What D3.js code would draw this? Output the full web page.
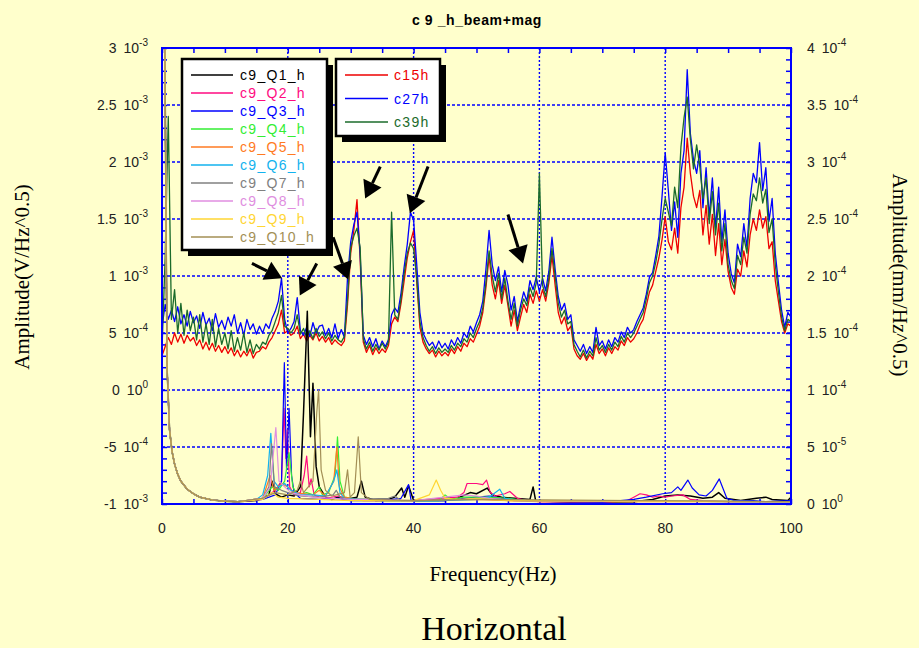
<!DOCTYPE html>
<html>
<head>
<meta charset="utf-8">
<script src="https://d3js.org/d3.v7.min.js"></script>
<style>
  body { margin: 0; background: #ffffcc; }
  svg { display: block; }
</style>
</head>
<body>
<svg id="chart"></svg>
<script>
// ---- data ----
// beam spectra, left axis, in units of 1e-4 V/Hz^0.5, one value every 0.5 Hz from 0 to 100 Hz
const freqStep = 0.5;
const freqGrid = d3.range(0, 100 + freqStep / 2, freqStep);

const c15hAmp = [
  3.0, 3.8, 4.6, 4.0, 5.0, 4.2, 4.9, 4.1, 4.8, 4.3, 4.6,
  3.9, 4.4, 3.6, 4.2, 3.5, 4.1, 3.4, 3.9, 3.3, 3.8,
  3.2, 3.7, 3.0, 3.5, 2.9, 3.4, 3.0, 3.6, 2.8, 3.3,
  3.4, 3.8, 3.6, 4.2, 4.6, 5.2, 5.8, 7.0, 5.0, 5.2,
  4.8, 5.0, 5.6, 4.5, 4.9, 4.3, 4.8, 4.4, 5.0, 4.3,
  4.7, 4.2, 4.6, 4.0, 4.4, 4.1, 3.9, 4.3, 7.5, 12.0,
  14.0, 16.7, 11.5, 4.2, 3.3, 3.9, 3.1, 3.7, 3.2, 3.6,
  3.3, 3.9, 5.8, 6.4, 6.0, 7.6, 9.6, 11.6, 13.0, 14.0,
  9.5, 5.5, 4.2, 3.6, 3.2, 3.5, 2.9, 3.4, 3.0, 3.3,
  3.0, 3.6, 3.2, 3.8, 3.4, 4.1, 3.8, 4.5, 4.2, 4.9,
  5.6, 6.8, 9.0, 11.7, 9.2, 8.0, 9.6, 7.6, 9.2, 7.4,
  5.6, 7.0, 5.2, 6.4, 7.5, 6.8, 8.4, 7.6, 8.7, 7.8,
  8.8, 7.8, 9.4, 11.8, 9.2, 6.8, 5.8, 6.4, 5.2, 5.6,
  3.6, 3.0, 2.7, 3.2, 2.6, 3.1, 2.7, 4.0, 3.2, 3.6,
  3.0, 3.7, 3.2, 3.8, 3.5, 4.3, 3.9, 4.6, 4.2, 4.5,
  5.0, 5.7, 6.2, 7.4, 8.6, 9.2, 10.4, 11.6, 13.2, 15.2,
  13.0, 12.3, 14.2, 12.0, 16.0, 17.8, 22.1, 19.0, 17.0, 16.0,
  17.5, 13.6, 16.2, 12.8, 15.4, 11.8, 14.6, 11.0, 13.2, 10.4,
  9.0, 8.4, 10.6, 10.0, 12.2, 10.8, 13.6, 15.0, 14.0, 15.8,
  14.2, 15.2, 12.4, 13.0, 9.6, 7.8, 6.0, 5.0, 5.8, 5.6
];

const c27hAmp = [
  5.5, 7.5, 6.2, 7.0, 6.0, 7.3, 5.8, 6.6, 5.6, 6.9, 5.9,
  6.5, 5.4, 6.8, 5.7, 6.3, 5.2, 6.7, 5.5, 6.1, 5.3,
  6.4, 5.6, 6.6, 5.0, 5.9, 4.8, 6.2, 5.3, 5.8, 4.9,
  5.6, 5.0, 5.8, 5.4, 6.3, 6.9, 7.8, 9.8, 6.2, 5.0,
  5.4, 6.0, 8.1, 5.2, 4.8, 5.5, 4.7, 5.9, 5.0, 5.6,
  5.7, 4.8, 5.4, 4.6, 5.8, 4.5, 5.3, 4.6, 9.9, 13.0,
  14.5, 15.6, 12.0, 4.8, 4.0, 4.6, 3.8, 4.5, 3.6, 4.3,
  3.8, 4.4, 6.6, 7.2, 6.8, 8.5, 10.8, 12.8, 15.6, 14.9,
  11.0, 6.8, 5.0, 4.4, 3.9, 4.2, 3.6, 4.3, 3.7, 4.1,
  3.6, 4.4, 3.9, 4.6, 4.1, 5.0, 4.6, 5.6, 5.1, 5.9,
  6.6, 7.8, 10.6, 14.0, 11.0, 9.6, 10.8, 8.6, 10.5, 9.2,
  7.0, 8.2, 6.0, 7.4, 8.6, 7.8, 9.6, 8.8, 9.9, 8.6,
  9.8, 8.7, 10.4, 13.4, 10.6, 8.2, 7.0, 7.6, 6.2, 6.6,
  4.4, 3.9, 3.4, 4.0, 3.2, 3.8, 3.3, 5.5, 3.9, 4.3,
  3.6, 4.4, 3.8, 4.6, 4.2, 5.1, 4.6, 5.5, 5.0, 5.3,
  6.0, 6.6, 7.2, 8.4, 9.9, 10.3, 11.8, 13.5, 17.0, 20.8,
  17.5, 14.0, 16.5, 13.4, 19.0, 21.0, 28.1, 22.5, 20.2, 19.0,
  21.0, 16.0, 19.5, 15.2, 18.6, 14.2, 17.8, 13.0, 15.8, 12.0,
  10.2, 9.4, 12.8, 11.7, 14.6, 12.5, 16.8, 19.0, 18.2, 21.7,
  17.5, 19.5, 14.8, 16.8, 12.0, 9.4, 7.0, 5.5, 6.8, 6.4
];

const c39hAmp = [
  3.5, 11.6, 24.0, 6.2, 8.8, 5.0, 7.6, 4.8, 7.0, 5.2, 6.4,
  4.4, 6.6, 4.2, 5.8, 4.0, 6.2, 3.8, 5.4, 4.0, 5.0,
  3.6, 5.2, 3.4, 4.6, 3.5, 5.0, 3.3, 4.4, 3.2, 4.0,
  3.6, 4.2, 4.0, 4.8, 5.2, 6.0, 6.8, 8.3, 5.6, 5.4,
  5.0, 5.4, 6.6, 4.9, 5.4, 4.6, 5.2, 4.5, 5.4, 4.7,
  5.1, 4.5, 5.0, 4.3, 4.8, 4.4, 4.2, 4.7, 8.0, 12.5,
  13.5, 14.2, 12.5, 4.5, 3.6, 4.2, 3.4, 4.0, 3.5, 4.1,
  3.6, 4.2, 15.6, 6.6, 6.2, 8.0, 10.2, 12.0, 12.9, 12.4,
  9.8, 6.0, 4.6, 3.9, 3.4, 3.8, 3.2, 3.7, 3.3, 3.6,
  3.3, 3.9, 3.5, 4.1, 3.8, 4.5, 4.2, 5.0, 4.6, 5.4,
  6.0, 7.2, 9.4, 12.2, 10.0, 8.6, 10.2, 8.0, 9.8, 7.8,
  6.2, 7.6, 5.6, 7.0, 8.0, 7.4, 9.0, 8.2, 9.4, 19.0,
  9.2, 8.2, 9.8, 12.4, 10.0, 7.6, 6.4, 7.0, 5.8, 6.0,
  4.0, 3.4, 2.9, 3.5, 2.8, 3.4, 3.0, 4.6, 3.5, 3.9,
  3.3, 4.0, 3.5, 4.2, 3.8, 4.7, 4.2, 5.0, 4.6, 5.0,
  5.6, 6.2, 6.8, 8.0, 9.4, 10.0, 11.2, 12.8, 15.0, 16.8,
  15.6, 14.4, 17.8, 16.0, 21.3, 23.9, 25.7, 22.0, 19.4, 21.5,
  19.6, 16.8, 18.6, 14.6, 17.4, 13.6, 16.4, 12.2, 14.6, 11.0,
  9.6, 8.9, 11.8, 11.0, 13.4, 12.0, 15.4, 17.2, 16.6, 18.6,
  16.4, 17.6, 13.8, 15.0, 11.0, 8.6, 6.4, 5.2, 6.2, 6.0
];

// magnet spectra, right axis, [Hz, 1e-5 mm/Hz^0.5]
const qLowBand = [[0, 60], [0.4, 45], [0.8, 12], [1.2, 6.5], [1.6, 4.6], [2, 3.5], [2.5, 2.6],
  [3, 2.0], [4, 1.3], [5, 0.9], [6, 0.6], [8, 0.35], [10, 0.25]];

const q1 = [[12, 0.2], [15, 0.3], [16, 0.5], [17, 0.8], [17.5, 2.0], [18, 0.9], [19, 0.6], [20, 0.8],
  [21, 0.7], [22, 1.5], [22.5, 8], [23.1, 16.9], [23.6, 5.9], [24, 10.6], [24.5, 3.3], [25, 1.5],
  [26, 0.6], [27, 0.4], [28, 0.6], [29, 0.4], [31, 0.6], [31.7, 2.0], [32.3, 0.6], [34, 0.3], [36, 0.4],
  [37, 0.6], [38.1, 1.4], [38.6, 0.6], [39.2, 1.6], [40, 0.3], [45, 0.3], [47, 0.5], [49, 1.0],
  [50, 0.9], [51.7, 1.4], [52.5, 0.8], [54, 0.6], [56, 0.5], [58.5, 0.4], [59, 1.5], [59.4, 0.3],
  [65, 0.15], [75, 0.2], [78, 0.4], [80, 0.7], [82, 0.8], [84, 0.7], [86, 0.5], [87.5, 0.6],
  [88.5, 1.0], [89.5, 0.5], [92, 0.3], [94.5, 0.5], [96, 0.6], [97, 0.4], [99.5, 0.3], [100, 0.6]];
const q2 = [[12, 0.2], [16, 0.4], [17, 0.8], [18, 1.2], [19, 2], [19.4, 8.4], [19.7, 4], [19.9, 6.5],
  [20.3, 1.5], [21, 0.8], [22, 1.0], [22.6, 2.5], [23, 4.2], [23.4, 1.5], [23.7, 2.2], [24.2, 0.8],
  [25, 0.6], [26, 0.5], [28, 0.7], [30, 0.4], [35, 0.3], [40, 0.3], [44, 0.5], [47, 0.6], [48, 1.0],
  [48.5, 1.8], [50, 1.8], [51, 1.7], [51.6, 2.1], [52.2, 1.0], [53, 0.7], [54.5, 0.9], [55.3, 1.1],
  [56.5, 0.5], [58, 0.3], [60, 0.2], [70, 0.15], [74, 0.3], [75, 0.6], [76, 0.9], [77, 0.8], [78, 0.6],
  [79, 0.7], [80, 0.6], [81, 0.7], [82.8, 0.8], [84, 0.4], [86, 0.3], [90, 0.2], [100, 0.2]];
const q3 = [[12, 0.2], [16, 0.4], [18, 0.8], [19, 2], [19.45, 12.4], [19.8, 3], [20.2, 8.4], [20.6, 2.5],
  [21, 1.0], [22, 0.5], [25, 0.4], [28, 0.5], [30, 0.3], [35, 0.3], [38, 0.5], [39.2, 1.7], [39.6, 0.3],
  [45, 0.3], [48, 0.5], [50, 0.6], [52, 0.7], [54, 0.5], [58, 0.3], [62, 0.2], [70, 0.15], [75, 0.4],
  [77, 0.6], [79.6, 0.9], [81, 1.0], [82, 1.5], [82.5, 1.2], [83.6, 2.1], [84.3, 1.4], [85.4, 0.8],
  [86.5, 0.7], [87.5, 1.2], [88.6, 2.2], [89.3, 1.2], [89.8, 0.5], [91, 0.3], [94, 0.3], [96, 0.2], [100, 0.3]];
const q4 = [[12, 0.2], [16, 0.5], [17.5, 1.5], [18.5, 1.2], [19.5, 2.0], [20.2, 4.5], [20.8, 1.5],
  [21.5, 0.8], [23, 1.0], [24, 0.8], [25, 1.5], [25.5, 0.8], [26.5, 1.0], [27.5, 2.5], [27.9, 5.9],
  [28.3, 2.0], [29, 0.6], [31, 0.4], [35, 0.3], [44, 0.3], [45, 0.8], [46, 0.4], [48, 0.6], [52, 0.6],
  [55, 0.5], [58, 0.3], [100, 0.2]];
const q5 = [[12, 0.2], [16, 0.5], [17.2, 2.5], [17.8, 1.2], [19, 1.8], [20, 1.5], [21, 1.0], [24, 0.8],
  [25, 1.2], [26, 0.7], [27.3, 2.0], [27.8, 5.0], [28.2, 1.5], [29, 0.6], [32, 0.3], [40, 0.3], [50, 0.4],
  [55, 0.3], [60, 0.2], [100, 0.2]];
const q6 = [[12, 0.2], [15, 0.4], [16, 0.8], [16.8, 2.5], [17.3, 6.2], [17.8, 2.0], [18.5, 1.5], [19.5, 1.8],
  [20.5, 1.2], [22, 0.8], [24, 0.8], [26, 0.7], [27.3, 2.0], [27.8, 3.0], [28.3, 1.0], [29, 0.5], [35, 0.3],
  [44, 0.3], [50, 0.4], [52, 0.6], [53.7, 1.3], [54.5, 0.5], [57, 0.3], [100, 0.2]];
const q7 = [[12, 0.2], [16, 0.5], [17, 1.5], [17.4, 5.3], [17.9, 1.5], [19, 1.2], [20, 1.0], [22, 0.7],
  [25, 0.6], [27.2, 0.8], [27.7, 1.2], [28.3, 0.6], [30, 0.4], [36, 0.5], [37, 0.7], [38, 0.3], [50, 0.4],
  [53, 0.5], [56, 0.3], [100, 0.2]];
const q8 = [[12, 0.2], [16, 0.5], [17.2, 1.5], [18.1, 6.7], [18.6, 2.0], [19.5, 1.5], [20.5, 1.0], [22, 0.8],
  [24, 0.6], [27, 0.5], [30, 0.4], [40, 0.3], [48, 0.8], [50, 0.7], [52, 0.5], [56, 0.3], [100, 0.2]];
const q9 = [[12, 0.2], [16, 0.4], [17.5, 1.0], [18.5, 0.6], [20, 0.5], [25, 0.4], [30, 0.3], [40, 0.3],
  [42.5, 0.8], [43.6, 2.1], [44.3, 1.2], [45, 0.5], [47, 0.4], [50, 0.5], [55, 0.3], [100, 0.2]];
const q10 = [[12, 0.2], [16, 0.5], [18, 1.0], [20, 0.8], [21.5, 1.2], [22, 2.0], [22.5, 1.0], [24, 2.0],
  [24.6, 8], [24.9, 10.0], [25.3, 3.0], [26, 1.2], [27, 0.7], [29, 1.0], [29.5, 3.0], [29.9, 0.6],
  [30.6, 1.0], [31.2, 5.9], [31.7, 1.0], [33, 0.4], [40, 0.3], [50, 0.4], [100, 0.2]];

const qNames = ["c9_Q1_h", "c9_Q2_h", "c9_Q3_h", "c9_Q4_h", "c9_Q5_h",
  "c9_Q6_h", "c9_Q7_h", "c9_Q8_h", "c9_Q9_h", "c9_Q10_h"];
const qColors = ["#000000", "#ff0a80", "#0000ff", "#33ee33", "#ff7a22",
  "#12b2ee", "#808080", "#e08ee0", "#ffd633", "#a38f55"];
const qTails = [q1, q2, q3, q4, q5, q6, q7, q8, q9, q10];

const beamNames = ["c15h", "c27h", "c39h"];
const beamColors = ["#ee0000", "#0000ff", "#1b6b2b"];
const beamAmps = [c15hAmp, c27hAmp, c39hAmp];

// axis ticks
const leftTickVals = [-10, -5, 0, 5, 10, 15, 20, 25, 30];
const leftTickMant = ["-1", "-5", "0", "5", "1", "1.5", "2", "2.5", "3"];
const leftTickExp = ["-3", "-4", "0", "-4", "-3", "-3", "-3", "-3", "-3"];
const rightTickVals = [0, 5, 10, 15, 20, 25, 30, 35, 40];
const rightTickMant = ["0", "5", "1", "1.5", "2", "2.5", "3", "3.5", "4"];
const rightTickExp = ["0", "-5", "-4", "-4", "-4", "-4", "-4", "-4", "-4"];
const xTickVals = [0, 20, 40, 60, 80, 100];

// arrows: [tail Hz, tail 1e-4, tip Hz, tip 1e-4]
const arrows = [[14.3, 11.1, 19.1, 9.8], [24.6, 11.1, 21.9, 8.3], [27.2, 13.4, 29.6, 9.7],
  [34.7, 19.6, 32.3, 16.8], [42.3, 19.6, 39.4, 15.5], [55.0, 15.4, 57.4, 11.1]];

// ---- drawing ----
const width = 919, height = 648;
const svg = d3.select("#chart").attr("width", width).attr("height", height);
const sans = "'Liberation Sans', Arial, sans-serif";
const serif = "'Liberation Serif', 'Times New Roman', serif";

svg.append("rect").attr("width", width).attr("height", height).attr("fill", "#ffffcc");

const plot = {left: 162, right: 791, top: 48, bottom: 504};
const x = d3.scaleLinear().domain([0, 100]).range([plot.left, plot.right]);
const yL = d3.scaleLinear().domain([-10, 30]).range([plot.bottom, plot.top]);
const yR = d3.scaleLinear().domain([0, 40]).range([plot.bottom, plot.top]);

svg.append("clipPath").attr("id", "clip").append("rect")
  .attr("x", plot.left).attr("y", plot.top)
  .attr("width", plot.right - plot.left).attr("height", plot.bottom - plot.top);

// grid
svg.append("g").selectAll("line").data([20, 40, 60, 80]).join("line")
  .attr("x1", d => x(d)).attr("x2", d => x(d))
  .attr("y1", plot.top).attr("y2", plot.bottom)
  .attr("stroke", "#0000ff").attr("stroke-width", 1.4).attr("stroke-dasharray", "2,2");
svg.append("g").selectAll("line").data([-5, 0, 5, 10, 15, 20, 25]).join("line")
  .attr("x1", plot.left).attr("x2", plot.right)
  .attr("y1", d => yL(d)).attr("y2", d => yL(d))
  .attr("stroke", "#0000ff").attr("stroke-width", 1.4).attr("stroke-dasharray", "3,2");

// inner ticks
function innerTicks(axis, tx, ty) {
  const g = svg.append("g").attr("transform", `translate(${tx},${ty})`).call(axis);
  g.select(".domain").remove();
  g.selectAll("line").attr("stroke", "#0000ff").attr("stroke-width", 1.5);
}
innerTicks(d3.axisLeft(yL).tickValues(d3.range(-10, 31, 1)).tickSize(-5).tickFormat(""), plot.left, 0);
innerTicks(d3.axisRight(yR).tickValues(d3.range(0, 41, 1)).tickSize(-5).tickFormat(""), plot.right, 0);
innerTicks(d3.axisBottom(x).tickValues(d3.range(0, 101, 5)).tickSize(-5).tickFormat(""), 0, plot.bottom);
innerTicks(d3.axisTop(x).tickValues(d3.range(0, 101, 5)).tickSize(-5).tickFormat(""), 0, plot.top);

// traces
const traces = svg.append("g").attr("clip-path", "url(#clip)");
const lineL = d3.line().x(d => x(d[0])).y(d => yL(d[1]));
const lineR = d3.line().x(d => x(d[0])).y(d => yR(d[1]));

beamAmps.forEach((amps, i) => {
  traces.append("path")
    .datum(freqGrid.map((f, j) => [f, amps[j]]))
    .attr("d", lineL)
    .attr("fill", "none")
    .attr("stroke", beamColors[i])
    .attr("stroke-width", 1.3)
    .attr("stroke-linejoin", "round");
});

qTails.forEach((tail, i) => {
  traces.append("path")
    .datum(qLowBand.concat(tail))
    .attr("d", lineR)
    .attr("fill", "none")
    .attr("stroke", qColors[i])
    .attr("stroke-width", i === 0 ? 1.5 : 1.2)
    .attr("stroke-linejoin", "round");
});

// frame
svg.append("rect")
  .attr("x", plot.left).attr("y", plot.top)
  .attr("width", plot.right - plot.left).attr("height", plot.bottom - plot.top)
  .attr("fill", "none").attr("stroke", "#0000ff").attr("stroke-width", 2);

// tick labels
function sciText(g, mant, exp) {
  g.append("tspan").text(mant + "\u2002" + "10");
  g.append("tspan").attr("dy", -7).attr("font-size", 10).text(exp);
}
leftTickVals.forEach((v, i) => {
  const t = svg.append("text")
    .attr("x", 148).attr("y", yL(v) + 5)
    .attr("text-anchor", "end")
    .attr("font-family", sans).attr("font-size", 14).attr("fill", "#222");
  sciText(t, leftTickMant[i], leftTickExp[i]);
});
rightTickVals.forEach((v, i) => {
  const t = svg.append("text")
    .attr("x", 807).attr("y", yR(v) + 5)
    .attr("font-family", sans).attr("font-size", 14).attr("fill", "#222");
  sciText(t, rightTickMant[i], rightTickExp[i]);
});
svg.append("g").selectAll("text").data(xTickVals).join("text")
  .attr("x", d => x(d)).attr("y", 533)
  .attr("text-anchor", "middle")
  .attr("font-family", sans).attr("font-size", 14).attr("fill", "#222")
  .text(d => d);

// titles
svg.append("text").attr("x", 477).attr("y", 25).attr("text-anchor", "middle")
  .attr("font-family", sans).attr("font-size", 14).attr("font-weight", "bold")
  .attr("letter-spacing", 0.6).text("c 9 _h_beam+mag");
svg.append("text").attr("x", 493).attr("y", 581).attr("text-anchor", "middle")
  .attr("font-family", serif).attr("font-size", 21).text("Frequency(Hz)");
svg.append("text").attr("x", 494).attr("y", 640).attr("text-anchor", "middle")
  .attr("font-family", serif).attr("font-size", 34).text("Horizontal");
svg.append("text").attr("transform", "translate(29,277) rotate(-90)").attr("text-anchor", "middle")
  .attr("font-family", serif).attr("font-size", 21).text("Amplitude(V/Hz^0.5)");
svg.append("text").attr("transform", "translate(893,275) rotate(90)").attr("text-anchor", "middle")
  .attr("font-family", serif).attr("font-size", 21).text("Amplitude(mm/Hz^0.5)");

// arrows
arrows.forEach(a => {
  const x0 = x(a[0]), y0 = yL(a[1]), x1 = x(a[2]), y1 = yL(a[3]);
  const len = Math.hypot(x1 - x0, y1 - y0);
  const ux = (x1 - x0) / len, uy = (y1 - y0) / len;
  const headLen = 17, headHalf = 10;
  const bx = x1 - ux * headLen, by = y1 - uy * headLen;
  svg.append("line").attr("x1", x0).attr("y1", y0).attr("x2", bx).attr("y2", by)
    .attr("stroke", "#000").attr("stroke-width", 3);
  svg.append("path")
    .attr("d", `M${x1},${y1}L${bx - uy * headHalf},${by + ux * headHalf}L${bx + uy * headHalf},${by - ux * headHalf}Z`)
    .attr("fill", "#000");
});

// legends
function legendBox(x0, y0, w, h, names, colors, rowY, rowGap, lineX0, lineX1, textX) {
  svg.append("rect").attr("x", x0 + 6).attr("y", y0 + 6).attr("width", w).attr("height", h).attr("fill", "#000");
  svg.append("rect").attr("x", x0).attr("y", y0).attr("width", w).attr("height", h)
    .attr("fill", "#fff").attr("stroke", "#000").attr("stroke-width", 2.5);
  names.forEach((n, i) => {
    const yy = rowY + i * rowGap;
    svg.append("line").attr("x1", lineX0).attr("x2", lineX1).attr("y1", yy).attr("y2", yy)
      .attr("stroke", colors[i]).attr("stroke-width", 1.5);
    svg.append("text").attr("x", textX).attr("y", yy + 5)
      .attr("font-family", sans).attr("font-size", 14).attr("letter-spacing", 1.3)
      .attr("fill", colors[i]).text(n);
  });
}
legendBox(182, 59, 145, 191, qNames, qColors, 75, 18, 191, 233, 240);
legendBox(336, 59, 104, 77, beamNames, beamColors, 75, 23.5, 345, 388, 394);
</script>
</body>
</html>
